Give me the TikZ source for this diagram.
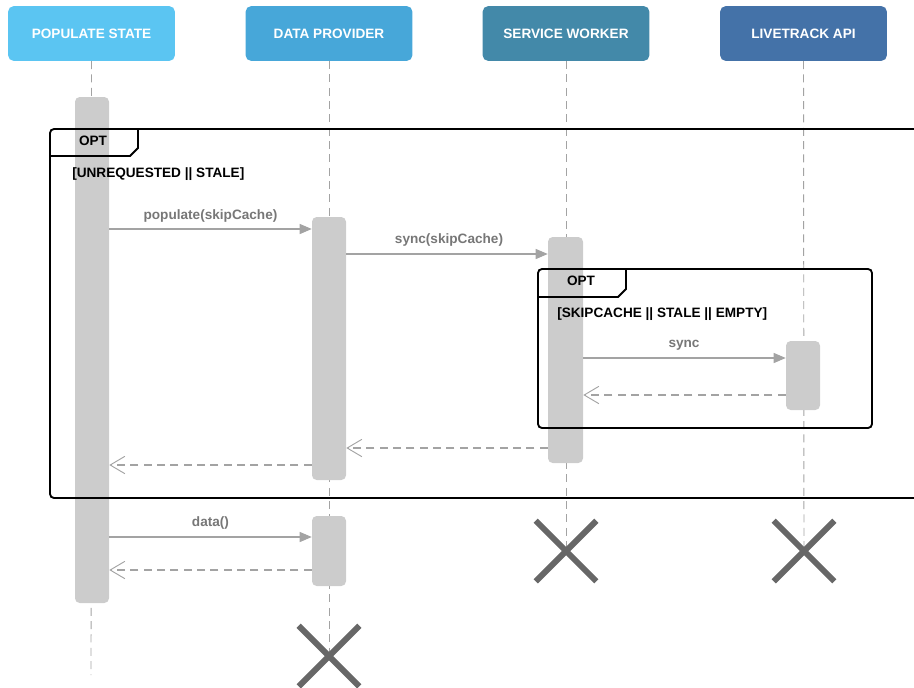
\documentclass[tikz,border=0pt]{standalone}
\usepackage{fontspec}
\setmainfont{Liberation Sans}
\usetikzlibrary{arrows.meta,shapes.misc}
\definecolor{hcA}{HTML}{5BC5F2}
\definecolor{hcB}{HTML}{47A7D9}
\definecolor{hcC}{HTML}{4389A9}
\definecolor{hcD}{HTML}{4472A8}
\definecolor{barc}{HTML}{CCCCCC}
\definecolor{lblc}{HTML}{777777}
\definecolor{linec}{HTML}{A3A3A3}
\definecolor{crossc}{HTML}{676767}
\begin{document}
\begin{tikzpicture}[x=0.75pt,y=-0.75pt,
  hdr/.style={rectangle,rounded corners=4pt,minimum width=125pt,minimum height=41pt,
    text=white,font=\bfseries\fontsize{10.2}{12}\selectfont,inner sep=0pt},
  actbar/.style={fill=barc,draw=none,rounded corners=3.5pt},
  lifeline/.style={draw=linec,line width=0.7pt,dash pattern=on 6pt off 4pt},
  msgline/.style={draw=linec,line width=0.8pt,-{Triangle[length=9pt,width=7.5pt,fill=linec]}},
  retline/.style={draw=linec,line width=0.8pt,dash pattern=on 6pt off 4pt,
    -{Straight Barb[length=11pt,width=13pt,line width=0.7pt]}},
  msglabel/.style={text=lblc,font=\bfseries\fontsize{10.2}{12}\selectfont,inner sep=0pt},
  guard/.style={text=black,font=\bfseries\fontsize{10.2}{12}\selectfont,inner sep=0pt,anchor=west},
  optlbl/.style={text=black,font=\bfseries\fontsize{10.2}{12}\selectfont,inner sep=0pt},
  frameline/.style={draw=black,line width=1.4pt},
  endx/.style={cross out,draw=crossc,line width=4.5pt,minimum size=41pt,inner sep=0pt}
]
\useasboundingbox (0,0) rectangle (914,687);
% headers
\node[hdr,fill=hcA] (h1) at (91.5,33.5) {POPULATE STATE};
\node[hdr,fill=hcB] (h2) at (329,33.5) {DATA PROVIDER};
\node[hdr,fill=hcC] (h3) at (566,33.5) {SERVICE WORKER};
\node[hdr,fill=hcD] (h4) at (803.5,33.5) {LIVETRACK API};
% end markers
\coordinate (e1) at (91,675);
\coordinate (x2) at (329,656);
\coordinate (x3) at (566,551);
\coordinate (x4) at (804,551);
% lifelines
\draw[lifeline] (h1.south) -- (e1);
\draw[lifeline] (h2.south) -- (x2);
\draw[lifeline] (h3.south) -- (x3);
\draw[lifeline] (h4.south) -- (x4);
% crosses above lifelines
\node[endx] (c2) at (x2) {};
\node[endx] (c3) at (x3) {};
\node[endx] (c4) at (x4) {};
% activation bars
\path[actbar] (75,97) rectangle (109,603);
\node[inner sep=0pt,minimum width=25.5pt,minimum height=379.5pt] (a1) at (92,350) {};
\path[actbar] (312,217) rectangle (346,480);
\node[inner sep=0pt,minimum width=25.5pt,minimum height=197pt] (a2) at (329,348.5) {};
\path[actbar] (312,516) rectangle (346,586);
\node[inner sep=0pt,minimum width=25.5pt,minimum height=52.5pt] (a2b) at (329,551) {};
\path[actbar] (548,237) rectangle (583,463);
\node[inner sep=0pt,minimum width=26.25pt,minimum height=169.5pt] (a3) at (565.5,350) {};
\path[actbar] (786,341) rectangle (820,410);
\node[inner sep=0pt,minimum width=25.5pt,minimum height=51.75pt] (a4) at (803,375.5) {};
% outer opt frame
\draw[frameline,rounded corners=3pt] (916,129) -- (50,129) -- (50,498) -- (916,498);
\draw[frameline] (50,156) -- (130,156) -- (138,148) -- (138,129);
\node[optlbl] (opt1) at (93,141) {OPT};
\node[guard] (g1) at (72,174) {[UNREQUESTED || STALE]};
% inner opt frame
\draw[frameline,rounded corners=3pt] (538,269) rectangle (872,428);
\draw[frameline] (538,297) -- (618,297) -- (626,289) -- (626,269);
\node[optlbl] (opt2) at (581,281) {OPT};
\node[guard] (g2) at (557,314) {[SKIPCACHE || STALE || EMPTY]};
% messages
\draw[msgline] (a1.east |- 0,229) -- (a2.west |- 0,229);
\node[msglabel] (l1) at (210.5,216) {populate(skipCache)};
\draw[msgline] (a2.east |- 0,254) -- (a3.west |- 0,254);
\node[msglabel] (l2) at (449,240) {sync(skipCache)};
\draw[msgline] (a3.east |- 0,358) -- (a4.west |- 0,358);
\node[msglabel] (l3) at (684,345) {sync};
\draw[retline] (a4.west |- 0,395) -- (a3.east |- 0,395);
\draw[retline] (a3.west |- 0,448) -- (a2.east |- 0,448);
\draw[retline] (a2.west |- 0,465) -- (a1.east |- 0,465);
\draw[msgline] (a1.east |- 0,537) -- (a2b.west |- 0,537);
\node[msglabel] (l4) at (210.5,523) {data()};
\draw[retline] (a2b.west |- 0,570) -- (a1.east |- 0,570);
\end{tikzpicture}
\end{document}
